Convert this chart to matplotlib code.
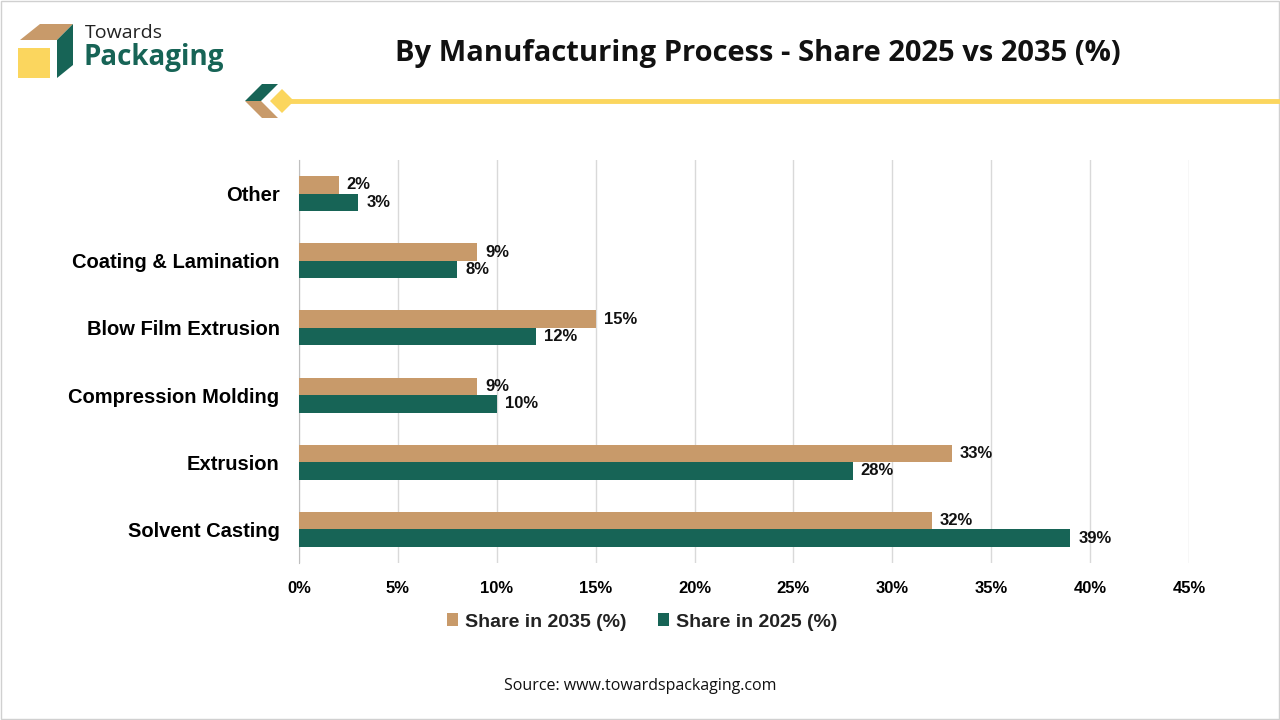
import matplotlib
matplotlib.use("Agg")
import matplotlib.pyplot as plt
from matplotlib.patches import Polygon, Rectangle
import numpy as np

categories = ["Other", "Coating & Lamination", "Blow Film Extrusion",
              "Compression Molding", "Extrusion", "Solvent Casting"]
share_2035 = [2, 9, 15, 9, 33, 32]
share_2025 = [3, 8, 12, 10, 28, 39]
xticks = [0, 5, 10, 15, 20, 25, 30, 35, 40, 45]

TAN = "#C89A6A"
GREEN = "#176456"
YELLOW = "#FBD65E"

plt.rcParams['font.family'] = ['Liberation Sans', 'DejaVu Sans']

fig = plt.figure(figsize=(12.8, 7.2), dpi=100)
W, H = 1280, 720

def px(x, y):
    return (x / W, 1 - y / H)

# border
fig.patches.append(Rectangle((0.001, 0.001), 0.998, 0.997, transform=fig.transFigure,
                             fill=False, edgecolor="#D0D0D0", linewidth=1))

# logo cube
def poly(points, color):
    fig.patches.append(Polygon([px(*p) for p in points], closed=True,
                               transform=fig.transFigure, facecolor=color, edgecolor="none"))

poly([(20, 40), (40, 24), (73, 24), (57, 40)], TAN)
poly([(57, 40), (73, 24), (73, 65), (57, 78)], GREEN)
poly([(18, 48), (50, 48), (50, 78), (18, 78)], YELLOW)
fig.text(*px(85, 33), "Towards", fontsize=14, color="#222222", va="center", ha="left",
         family=["Open Sans", "DejaVu Sans"])
fig.text(*px(84, 58), "Packaging", fontsize=20, color=GREEN, fontweight="bold",
         va="center", ha="left", family=["Open Sans", "DejaVu Sans"])

# decorative chevron and line
fig.lines.append(plt.Line2D([285 / W, 1.0], [1 - 101 / H, 1 - 101 / H], transform=fig.transFigure,
                            color=YELLOW, linewidth=3.5))
poly([(245, 101), (262, 84), (278, 84), (261, 101)], GREEN)
poly([(245, 101), (261, 101), (278, 118), (262, 118)], TAN)
poly([(282, 89), (294, 101), (282, 113), (270, 101)], YELLOW)

# title
fig.text(*px(758, 53), "By Manufacturing Process - Share 2025 vs 2035 (%)", fontsize=21,
         fontweight="bold", ha="center", va="center", color="#111111",
         family=["Open Sans", "DejaVu Sans"])

ax = fig.add_axes([299 / W, 1 - 563 / H, (1189 - 299) / W, (563 - 160) / H])
y = np.arange(len(categories))
h = 0.26
b1 = ax.barh(y - h / 2, share_2035, height=h, color=TAN, label="Share in 2035 (%)", zorder=3)
b2 = ax.barh(y + h / 2, share_2025, height=h, color=GREEN, label="Share in 2025 (%)", zorder=3)
for bars, vals in ((b1, share_2035), (b2, share_2025)):
    for bar, v in zip(bars, vals):
        ax.text(v + 0.4, bar.get_y() + bar.get_height() / 2, f"{v}%", va="center", ha="left",
                fontsize=12, fontweight="bold", color="#111111")

ax.set_ylim(len(categories) - 0.5, -0.5)
ax.set_xlim(0, 45)
ax.set_xticks(xticks)
ax.set_xticklabels([f"{t}%" for t in xticks], fontsize=12, fontweight="bold")
ax.set_yticks(y)
ax.set_yticklabels(categories, fontsize=14.5, fontweight="bold")
ax.tick_params(axis="y", length=0, pad=14)
ax.tick_params(axis="x", length=0, pad=13)
ax.grid(axis="x", color="#D9D9D9", linewidth=1, zorder=0)
for s in ["top", "right", "bottom"]:
    ax.spines[s].set_visible(False)
ax.spines["left"].set_color("#BFBFBF")

leg = fig.legend(handles=[b1, b2], loc="center", bbox_to_anchor=px(642, 622), ncol=2,
                 frameon=False, fontsize=14, handlelength=0.6, handleheight=0.6,
                 columnspacing=1.6, handletextpad=0.35)
for t in leg.get_texts():
    t.set_fontweight("bold")
    t.set_color("#222222")

fig.text(*px(640, 686), "Source: www.towardspackaging.com", fontsize=11.5, ha="center",
         va="center", color="#111111", family=["Open Sans", "DejaVu Sans"])

fig.savefig("out.png", dpi=100)
